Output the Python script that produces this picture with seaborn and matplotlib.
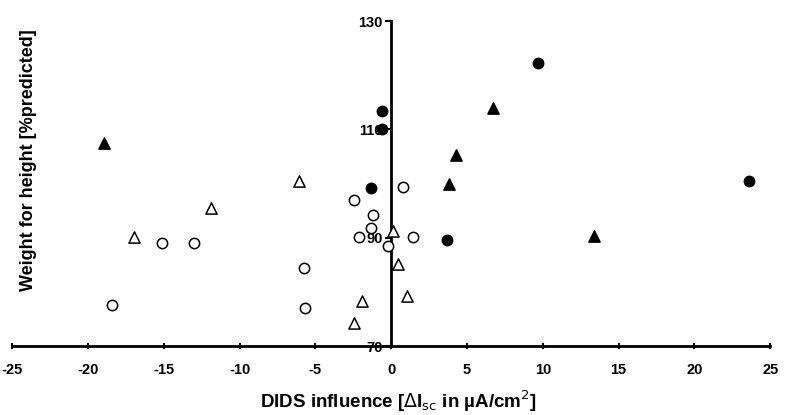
import matplotlib
matplotlib.use("Agg")
import matplotlib.pyplot as plt
import seaborn as sns
import pandas as pd

# Filled circles
fc_x = [-0.6, -0.6, -1.3, 3.7, 9.65, 23.6]
fc_y = [113.4, 110.0, 99.2, 89.6, 122.2, 100.4]
# Open circles
oc_x = [0.8, -2.45, -1.17, -1.35, -2.1, 1.46, -0.2, -5.76, -5.65, -15.1, -13.0, -18.4]
oc_y = [99.3, 97.0, 94.3, 91.9, 90.2, 90.2, 88.5, 84.4, 77.1, 89.1, 89.1, 77.6]
# Filled triangles
ft_x = [-18.96, 6.7, 4.3, 3.8, 13.4]
ft_y = [107.5, 113.9, 105.2, 99.9, 90.4]
# Open triangles
ot_x = [-6.1, 0.1, 0.42, 1.04, -1.9, -2.45, -11.9, -16.97]
ot_y = [100.4, 91.3, 85.1, 79.3, 78.3, 74.3, 95.5, 90.2]

x_ticks = [-25, -20, -15, -10, -5, 0, 5, 10, 15, 20, 25]
y_ticks = [70, 90, 110, 130]

sns.set_style("ticks")
plt.rcParams['font.family'] = ['Liberation Sans', 'DejaVu Sans']
plt.rcParams['text.color'] = 'black'
plt.rcParams['axes.labelcolor'] = 'black'
plt.rcParams['xtick.color'] = 'black'
plt.rcParams['ytick.color'] = 'black'

fig = plt.figure(figsize=(7.85, 4.15), dpi=100)
ax = fig.add_axes([0.0153, 0.166, 0.966, 0.783])

groups = [
    (fc_x, fc_y, 'o', 'black', 55),
    (oc_x, oc_y, 'o', 'white', 55),
    (ft_x, ft_y, '^', 'black', 65),
    (ot_x, ot_y, '^', 'white', 65),
]
for gx, gy, m, face, s in groups:
    df = pd.DataFrame({'x': gx, 'y': gy})
    sns.scatterplot(data=df, x='x', y='y', marker=m, s=s, color=face,
                    edgecolor='black', linewidth=1.1, ax=ax, zorder=3, legend=False)

ax.set_xlim(-25, 25)
ax.set_ylim(70, 130)
ax.set_xticks(x_ticks)
ax.set_xticklabels([str(t) for t in x_ticks])
ax.set_yticks(y_ticks)
ax.set_yticklabels([str(t) for t in y_ticks])

ax.spines['left'].set_position(('data', 0))
ax.spines['right'].set_visible(False)
ax.spines['top'].set_visible(False)
for sp in ('left', 'bottom'):
    ax.spines[sp].set_linewidth(2)
    ax.spines[sp].set_color('black')
ax.tick_params(axis='x', direction='inout', length=5, width=1.5, pad=10,
               labelsize=10.5, colors='black')
ax.tick_params(axis='y', direction='out', length=4, width=1.5, pad=2,
               labelsize=10.5, colors='black')
for lab in ax.get_xticklabels() + ax.get_yticklabels():
    lab.set_fontweight('bold')

ax.set_xlabel('DIDS influence [$\\Delta$I$_{\\rm sc}$ in µA/cm$^2$]', fontsize=13.5,
              fontweight='bold', color='black')
ax.set_ylabel('Weight for height [%predicted]', fontsize=13, fontweight='bold',
              color='black')
ax.xaxis.set_label_coords(0.51, -0.13)
ax.yaxis.set_label_coords(0.033, 0.572)

fig.savefig('out.png', dpi=100)
